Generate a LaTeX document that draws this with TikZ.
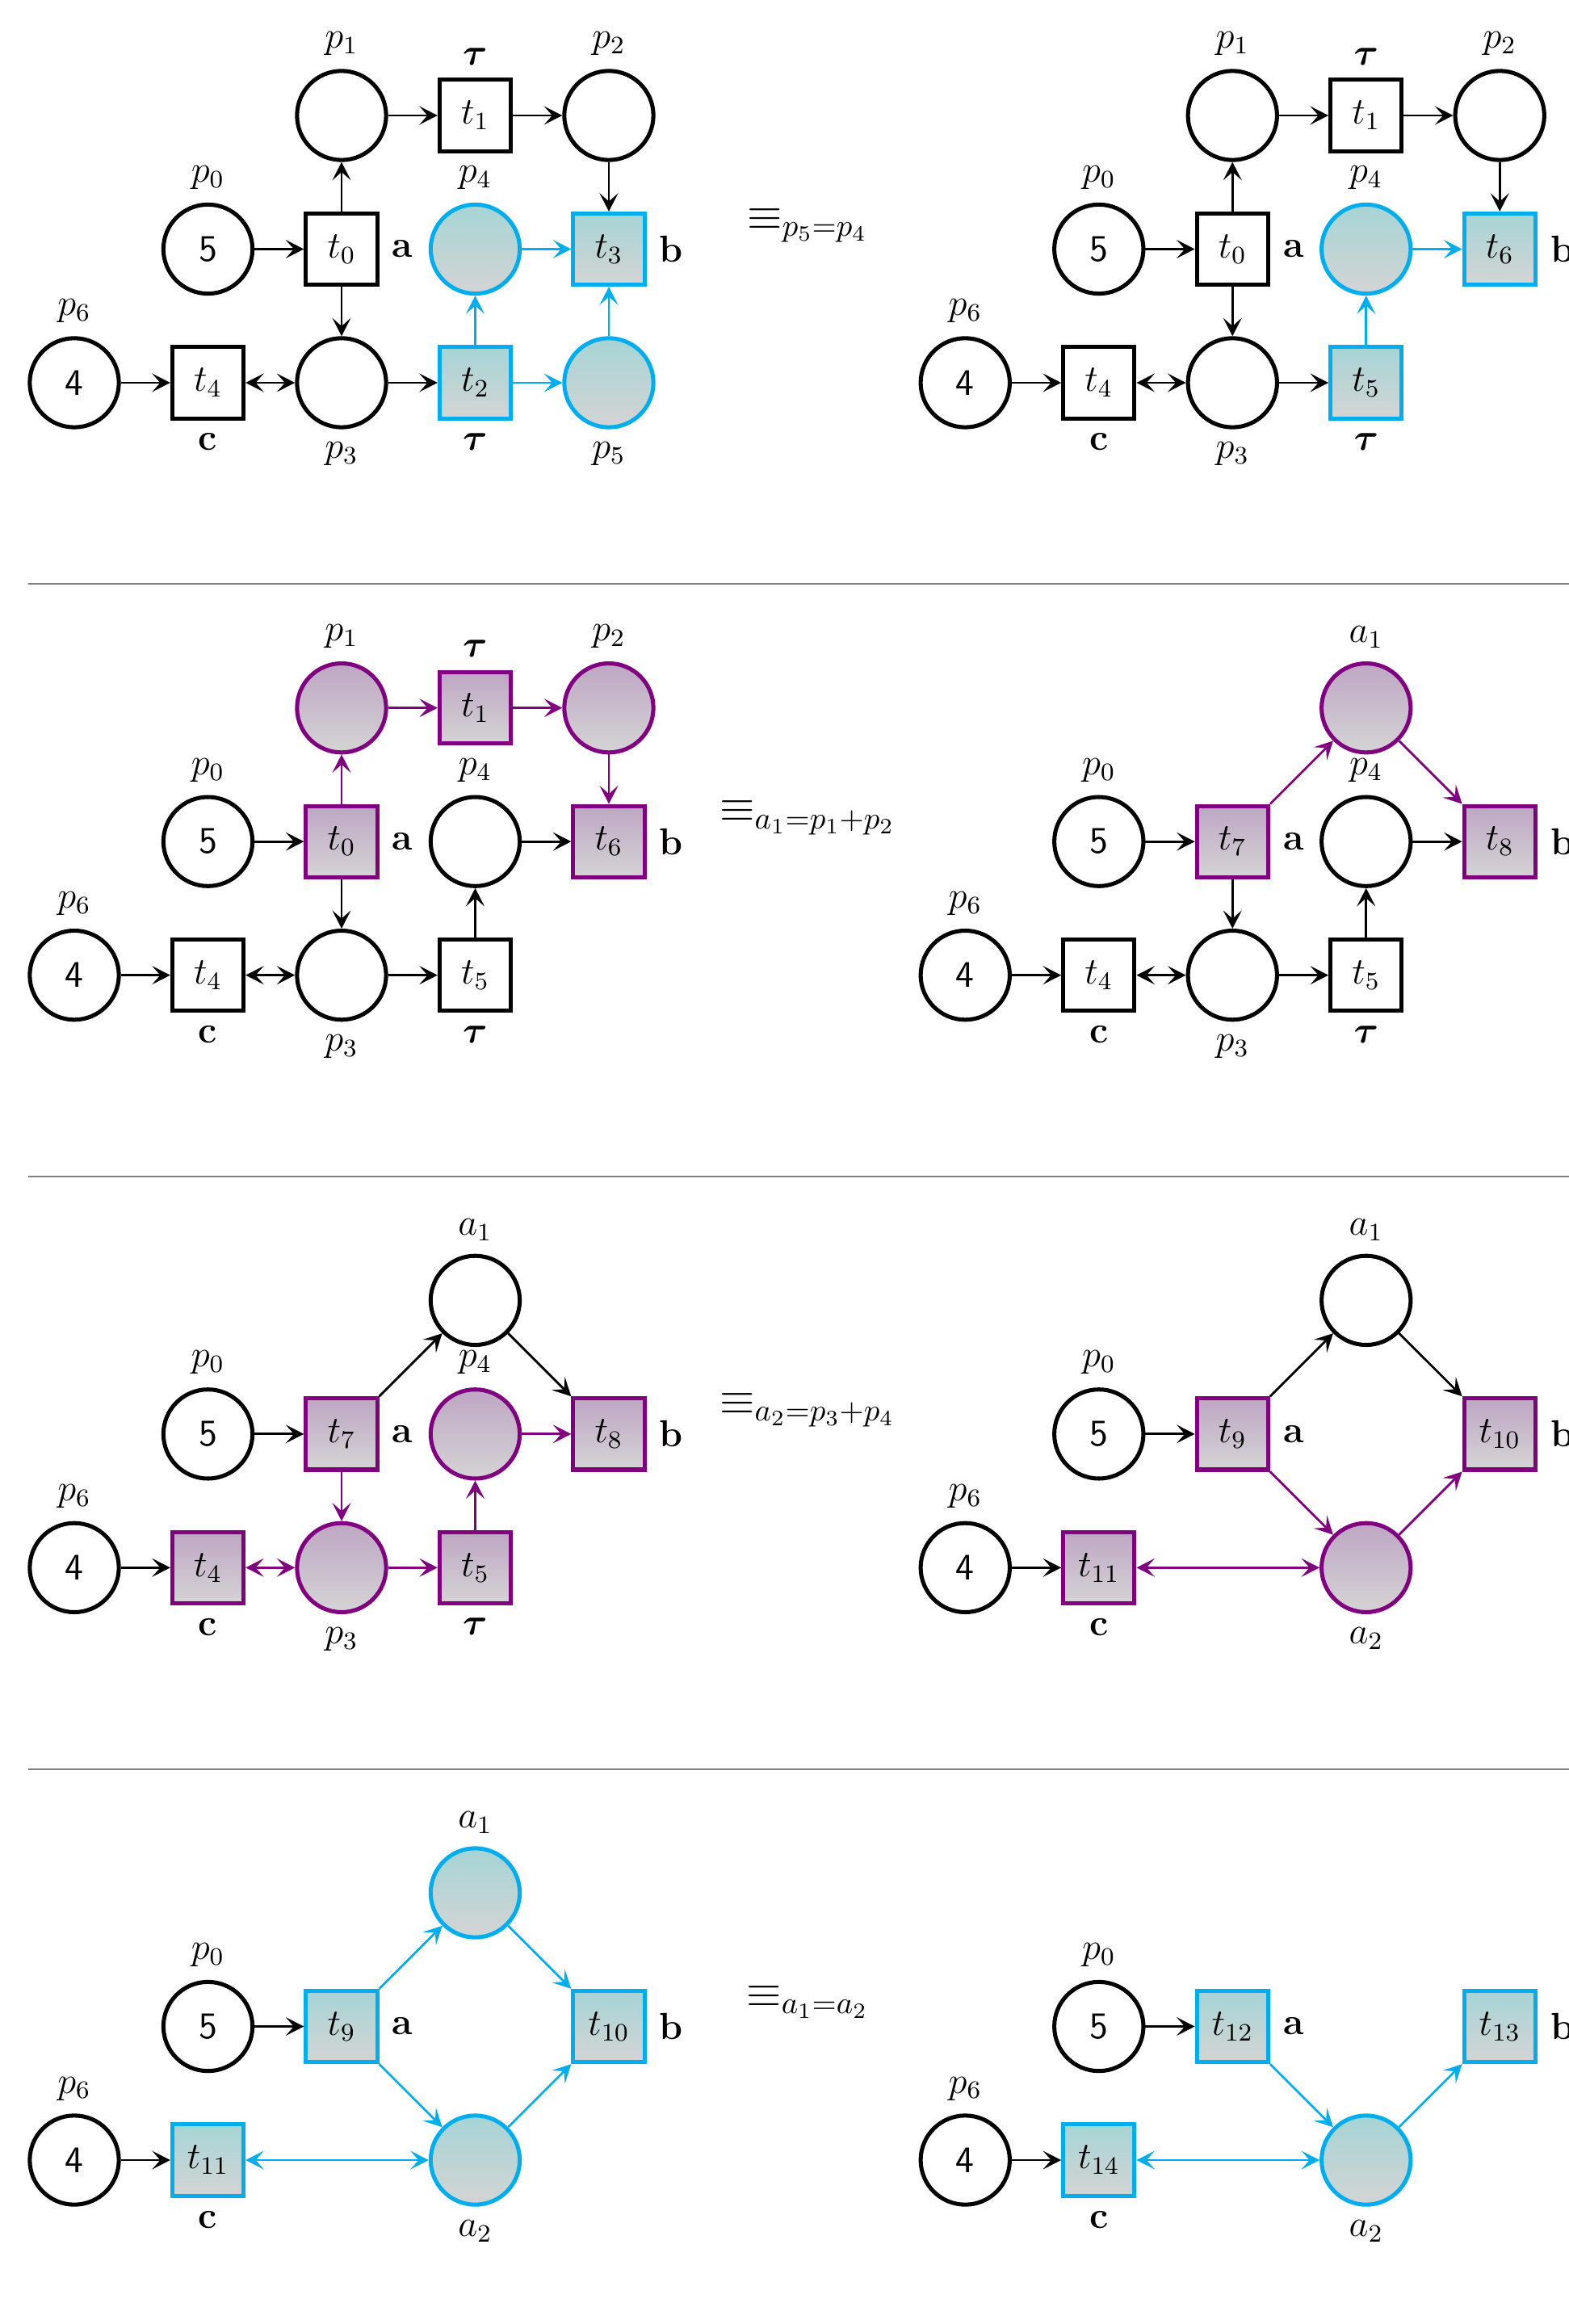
\documentclass[12pt,tikz,border=0pt]{standalone}
\usepackage{bm}
\usetikzlibrary{arrows.meta}

\definecolor{hlcyan}{RGB}{0,174,239}
\definecolor{hlviolet}{RGB}{128,0,128}
\definecolor{topcyan}{RGB}{166,212,213}
\definecolor{topviolet}{RGB}{190,166,196}
\definecolor{botgray}{RGB}{212,212,212}

\tikzset{
  place/.style={circle,draw,line width=1.3pt,minimum size=1cm,inner sep=0pt,font=\sffamily,label distance=4.5pt},
  transition/.style={rectangle,draw,line width=1.3pt,minimum size=0.8cm,inner sep=0pt,label distance=4.5pt},
  cyanfill/.style={draw=hlcyan,top color=topcyan,bottom color=botgray},
  violetfill/.style={draw=hlviolet,top color=topviolet,bottom color=botgray},
  tip/.tip={Stealth[length=5.8pt,width=5.9pt,inset=2.6pt]},
  arc/.style={line width=0.7pt,-tip},
  biarc/.style={line width=0.7pt,tip-tip},
  separator/.style={gray,line width=0.5pt}
}

\begin{document}
\begin{tikzpicture}

\useasboundingbox (-0.834,4.296) rectangle (16.77,-21.79);

% first row
\node[place,label=above:$p_6$] (p6) at (0,0) {4};
\node[transition,label=below:\textbf{c}] (t4) at (1.5,0) {$t_4$};
\node[place,label=below:$p_3$] (p3) at (3,0) {};
\node[transition,cyanfill,label=below:$\bm{\tau}$] (t2) at (4.5,0) {$t_2$};
\node[place,cyanfill,label=below:$p_5$] (p5) at (6,0) {};
\node[place,label=above:$p_0$] (p0) at (1.5,1.5) {5};
\node[transition,label=right:\textbf{a}] (t0) at (3,1.5) {$t_0$};
\node[place,cyanfill,label=above:$p_4$] (p4) at (4.5,1.5) {};
\node[transition,cyanfill,label=right:\textbf{b}] (t3) at (6,1.5) {$t_3$};
\node[place,label=above:$p_1$] (p1) at (3,3) {};
\node[transition,label=above:$\bm{\tau}$] (t1) at (4.5,3) {$t_1$};
\node[place,label=above:$p_2$] (p2) at (6,3) {};

\draw[arc] (p6) -- (t4);
\draw[biarc] (t4) -- (p3);
\draw[arc] (p3) -- (t2);
\draw[arc] (p0) -- (t0);
\draw[arc] (t0) -- (p1);
\draw[arc] (t0) -- (p3);
\draw[arc] (p1) -- (t1);
\draw[arc] (t1) -- (p2);
\draw[arc] (p2) -- (t3);
\draw[arc,hlcyan] (t2) -- (p5);
\draw[arc,hlcyan] (t2) -- (p4);
\draw[arc,hlcyan] (p4) -- (t3);
\draw[arc,hlcyan] (p5) -- (t3);

\node[anchor=base] (eq1) at (8.23,1.72) {\large$\equiv_{p_5=p_4}$};

\begin{scope}[xshift=10cm]
\node[place,label=above:$p_6$] (p6) at (0,0) {4};
\node[transition,label=below:\textbf{c}] (t4) at (1.5,0) {$t_4$};
\node[place,label=below:$p_3$] (p3) at (3,0) {};
\node[transition,cyanfill,label=below:$\bm{\tau}$] (t5) at (4.5,0) {$t_5$};
\node[place,label=above:$p_0$] (p0) at (1.5,1.5) {5};
\node[transition,label=right:\textbf{a}] (t0) at (3,1.5) {$t_0$};
\node[place,cyanfill,label=above:$p_4$] (p4) at (4.5,1.5) {};
\node[transition,cyanfill,label=right:\textbf{b}] (t6) at (6,1.5) {$t_6$};
\node[place,label=above:$p_1$] (p1) at (3,3) {};
\node[transition,label=above:$\bm{\tau}$] (t1) at (4.5,3) {$t_1$};
\node[place,label=above:$p_2$] (p2) at (6,3) {};

\draw[arc] (p6) -- (t4);
\draw[biarc] (t4) -- (p3);
\draw[arc] (p3) -- (t5);
\draw[arc] (p0) -- (t0);
\draw[arc] (t0) -- (p1);
\draw[arc] (t0) -- (p3);
\draw[arc] (p1) -- (t1);
\draw[arc] (t1) -- (p2);
\draw[arc] (p2) -- (t6);
\draw[arc,hlcyan] (t5) -- (p4);
\draw[arc,hlcyan] (p4) -- (t6);
\end{scope}

\draw[separator] (-0.52,-2.26) coordinate (s1a) -- (17,-2.26) coordinate (s1b);

% second row
\begin{scope}[yshift=-6.65cm]
\node[place,label=above:$p_6$] (p6) at (0,0) {4};
\node[transition,label=below:\textbf{c}] (t4) at (1.5,0) {$t_4$};
\node[place,label=below:$p_3$] (p3) at (3,0) {};
\node[transition,label=below:$\bm{\tau}$] (t5) at (4.5,0) {$t_5$};
\node[place,label=above:$p_0$] (p0) at (1.5,1.5) {5};
\node[transition,violetfill,label=right:\textbf{a}] (t0) at (3,1.5) {$t_0$};
\node[place,label=above:$p_4$] (p4) at (4.5,1.5) {};
\node[transition,violetfill,label=right:\textbf{b}] (t6) at (6,1.5) {$t_6$};
\node[place,violetfill,label=above:$p_1$] (p1) at (3,3) {};
\node[transition,violetfill,label=above:$\bm{\tau}$] (t1) at (4.5,3) {$t_1$};
\node[place,violetfill,label=above:$p_2$] (p2) at (6,3) {};

\draw[arc] (p6) -- (t4);
\draw[biarc] (t4) -- (p3);
\draw[arc] (p3) -- (t5);
\draw[arc] (t5) -- (p4);
\draw[arc] (p4) -- (t6);
\draw[arc] (p0) -- (t0);
\draw[arc] (t0) -- (p3);
\draw[arc,hlviolet] (t0) -- (p1);
\draw[arc,hlviolet] (p1) -- (t1);
\draw[arc,hlviolet] (t1) -- (p2);
\draw[arc,hlviolet] (p2) -- (t6);

\node[anchor=base] (eq2) at (8.23,1.72) {\large$\equiv_{a_1=p_1+p_2}$};

\begin{scope}[xshift=10cm]
\node[place,label=above:$p_6$] (p6) at (0,0) {4};
\node[transition,label=below:\textbf{c}] (t4) at (1.5,0) {$t_4$};
\node[place,label=below:$p_3$] (p3) at (3,0) {};
\node[transition,label=below:$\bm{\tau}$] (t5) at (4.5,0) {$t_5$};
\node[place,label=above:$p_0$] (p0) at (1.5,1.5) {5};
\node[transition,violetfill,label=right:\textbf{a}] (t7) at (3,1.5) {$t_7$};
\node[place,label=above:$p_4$] (p4) at (4.5,1.5) {};
\node[transition,violetfill,label=right:\textbf{b}] (t8) at (6,1.5) {$t_8$};
\node[place,violetfill,label=above:$a_1$] (a1) at (4.5,3) {};

\draw[arc] (p6) -- (t4);
\draw[biarc] (t4) -- (p3);
\draw[arc] (p3) -- (t5);
\draw[arc] (t5) -- (p4);
\draw[arc] (p4) -- (t8);
\draw[arc] (p0) -- (t7);
\draw[arc] (t7) -- (p3);
\draw[arc,hlviolet] (t7) -- (a1);
\draw[arc,hlviolet] (a1) -- (t8);
\end{scope}

\draw[separator] (-0.52,-2.26) coordinate (s2a) -- (17,-2.26) coordinate (s2b);
\end{scope}

% third row
\begin{scope}[yshift=-13.3cm]
\node[place,label=above:$p_6$] (p6) at (0,0) {4};
\node[transition,violetfill,label=below:\textbf{c}] (t4) at (1.5,0) {$t_4$};
\node[place,violetfill,label=below:$p_3$] (p3) at (3,0) {};
\node[transition,violetfill,label=below:$\bm{\tau}$] (t5) at (4.5,0) {$t_5$};
\node[place,label=above:$p_0$] (p0) at (1.5,1.5) {5};
\node[transition,violetfill,label=right:\textbf{a}] (t7) at (3,1.5) {$t_7$};
\node[place,violetfill,label=above:$p_4$] (p4) at (4.5,1.5) {};
\node[transition,violetfill,label=right:\textbf{b}] (t8) at (6,1.5) {$t_8$};
\node[place,label=above:$a_1$] (a1) at (4.5,3) {};

\draw[arc] (p6) -- (t4);
\draw[arc] (p0) -- (t7);
\draw[arc] (t7) -- (a1);
\draw[arc] (a1) -- (t8);
\draw[biarc,hlviolet] (t4) -- (p3);
\draw[arc,hlviolet] (t7) -- (p3);
\draw[arc,hlviolet] (p3) -- (t5);
\draw[arc,hlviolet] (t5) -- (p4);
\draw[arc,hlviolet] (p4) -- (t8);

\node[anchor=base] (eq3) at (8.23,1.72) {\large$\equiv_{a_2=p_3+p_4}$};

\begin{scope}[xshift=10cm]
\node[place,label=above:$p_6$] (p6) at (0,0) {4};
\node[transition,violetfill,label=below:\textbf{c}] (t11) at (1.5,0) {$t_{11}$};
\node[place,violetfill,label=below:$a_2$] (a2) at (4.5,0) {};
\node[place,label=above:$p_0$] (p0) at (1.5,1.5) {5};
\node[transition,violetfill,label=right:\textbf{a}] (t9) at (3,1.5) {$t_9$};
\node[transition,violetfill,label=right:\textbf{b}] (t10) at (6,1.5) {$t_{10}$};
\node[place,label=above:$a_1$] (a1) at (4.5,3) {};

\draw[arc] (p6) -- (t11);
\draw[arc] (p0) -- (t9);
\draw[arc] (t9) -- (a1);
\draw[arc] (a1) -- (t10);
\draw[arc,hlviolet] (t9) -- (a2);
\draw[arc,hlviolet] (a2) -- (t10);
\draw[biarc,hlviolet] (t11) -- (a2);
\end{scope}

\draw[separator] (-0.52,-2.26) coordinate (s3a) -- (17,-2.26) coordinate (s3b);
\end{scope}

% fourth row
\begin{scope}[yshift=-19.95cm]
\node[place,label=above:$p_6$] (p6) at (0,0) {4};
\node[transition,cyanfill,label=below:\textbf{c}] (t11) at (1.5,0) {$t_{11}$};
\node[place,cyanfill,label=below:$a_2$] (a2) at (4.5,0) {};
\node[place,label=above:$p_0$] (p0) at (1.5,1.5) {5};
\node[transition,cyanfill,label=right:\textbf{a}] (t9) at (3,1.5) {$t_9$};
\node[transition,cyanfill,label=right:\textbf{b}] (t10) at (6,1.5) {$t_{10}$};
\node[place,cyanfill,label=above:$a_1$] (a1) at (4.5,3) {};

\draw[arc] (p6) -- (t11);
\draw[arc] (p0) -- (t9);
\draw[arc,hlcyan] (t9) -- (a1);
\draw[arc,hlcyan] (a1) -- (t10);
\draw[arc,hlcyan] (t9) -- (a2);
\draw[arc,hlcyan] (a2) -- (t10);
\draw[biarc,hlcyan] (t11) -- (a2);

\node[anchor=base] (eq4) at (8.23,1.72) {\large$\equiv_{a_1=a_2}$};

\begin{scope}[xshift=10cm]
\node[place,label=above:$p_6$] (p6) at (0,0) {4};
\node[transition,cyanfill,label=below:\textbf{c}] (t14) at (1.5,0) {$t_{14}$};
\node[place,cyanfill,label=below:$a_2$] (a2) at (4.5,0) {};
\node[place,label=above:$p_0$] (p0) at (1.5,1.5) {5};
\node[transition,cyanfill,label=right:\textbf{a}] (t12) at (3,1.5) {$t_{12}$};
\node[transition,cyanfill,label=right:\textbf{b}] (t13) at (6,1.5) {$t_{13}$};

\draw[arc] (p6) -- (t14);
\draw[arc] (p0) -- (t12);
\draw[arc,hlcyan] (t12) -- (a2);
\draw[arc,hlcyan] (a2) -- (t13);
\draw[biarc,hlcyan] (t14) -- (a2);
\end{scope}
\end{scope}

\end{tikzpicture}
\end{document}
